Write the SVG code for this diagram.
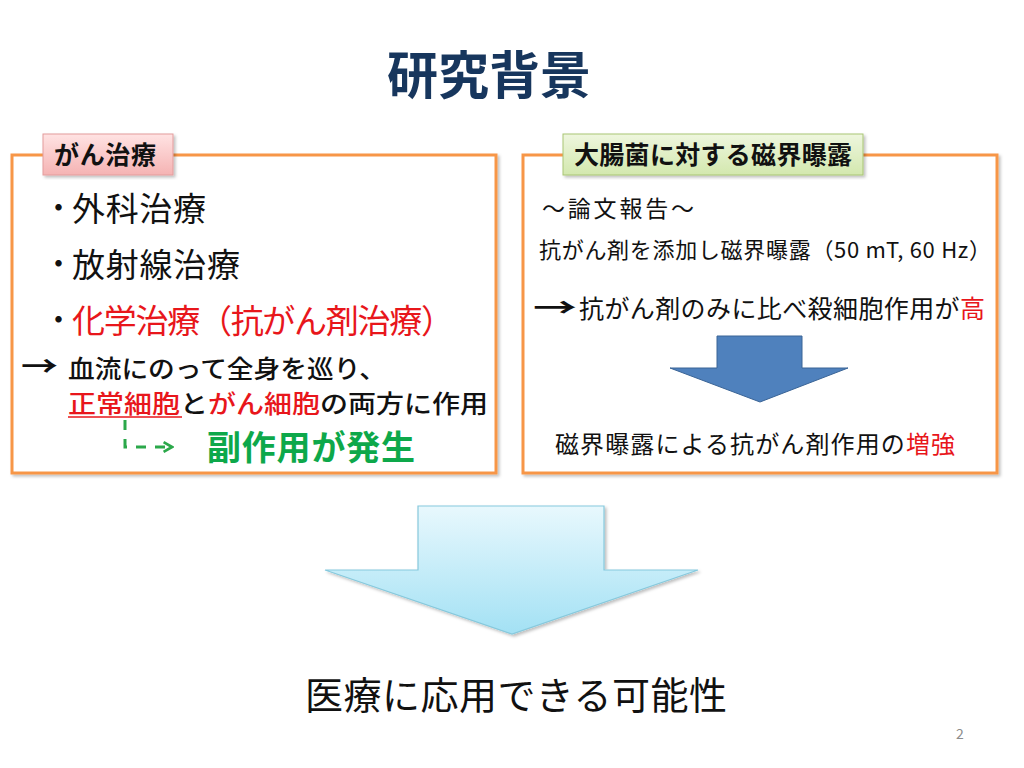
<svg xmlns="http://www.w3.org/2000/svg" width="1024" height="768" viewBox="0 0 1024 768">
<defs>
<linearGradient id="gPink" x1="0" y1="0" x2="0" y2="1"><stop offset="0" stop-color="#FFE3E3"/><stop offset="1" stop-color="#F5B3B3"/></linearGradient>
<linearGradient id="gGreen" x1="0" y1="0" x2="0" y2="1"><stop offset="0" stop-color="#EEF6DE"/><stop offset="1" stop-color="#D3E8AE"/></linearGradient>
<linearGradient id="gSky" x1="0" y1="0" x2="0" y2="1"><stop offset="0" stop-color="#E8F8FD"/><stop offset="1" stop-color="#A3E1F4"/></linearGradient>
<filter id="sh" x="-5%" y="-5%" width="110%" height="115%"><feDropShadow dx="2" dy="2" stdDeviation="1.5" flood-color="#000" flood-opacity="0.25"/></filter>
<marker id="gArrow" viewBox="0 0 10 10" refX="8" refY="5" markerWidth="4" markerHeight="4" orient="auto"><path d="M1,1 L8,5 L1,9" fill="none" stroke="#2BA84A" stroke-width="2.2"/></marker>
</defs>
<style>
text{font-family:"Noto Sans CJK JP","Noto Sans",sans-serif;fill:#111}
.box{fill:#fff;stroke:#F79646;stroke-width:3}
.red{fill:#E8161B}
.item{font-size:33px}
.bul{font-size:25px;font-weight:bold;fill:#111}
</style>
<rect width="1024" height="768" fill="#fff"/>
<text x="489" y="94" text-anchor="middle" font-size="51" font-weight="bold" style="fill:#17365D">研究背景</text>

<g id="cancer-treatment">
<rect class="box" x="12" y="155" width="484" height="318" filter="url(#sh)"/>
<rect x="43" y="134" width="130" height="41" fill="url(#gPink)" stroke="#E39C9C" stroke-width="1" filter="url(#sh)"/>
<text x="54" y="164" font-size="25" font-weight="bold" textLength="102">がん治療</text>
<text x="46" y="217" class="bul">・</text>
<text x="72" y="221" class="item" textLength="134">外科治療</text>
<text x="46" y="273" class="bul">・</text>
<text x="72" y="277" class="item" textLength="168">放射線治療</text>
<text x="46" y="329" class="bul">・</text>
<text x="72" y="333" class="item red" textLength="382">化学治療（抗がん剤治療）</text>
<text x="21" y="377" font-size="28" font-weight="bold" textLength="37" lengthAdjust="spacingAndGlyphs">→</text>
<text x="68" y="378" font-size="24.5" font-weight="500" textLength="318" lengthAdjust="spacingAndGlyphs">血流にのって全身を巡り、</text>
<text x="68" y="413" font-size="24.5" font-weight="500" textLength="420" lengthAdjust="spacingAndGlyphs"><tspan class="red">正常細胞</tspan>と<tspan class="red">がん細胞</tspan>の両方に作用</text>
<line x1="68" y1="417" x2="182" y2="417" stroke="#E8161B" stroke-width="1.5"/>
<text x="207" y="460" font-size="34" font-weight="bold" textLength="208" style="fill:#0DA84A">副作用が発生</text>
</g>

<g id="magnetic-exposure">
<rect class="box" x="523" y="155" width="474" height="318" filter="url(#sh)"/>
<rect x="563" y="134" width="300" height="41" fill="url(#gGreen)" stroke="#A9C574" stroke-width="1" filter="url(#sh)"/>
<text x="574" y="164" font-size="25" font-weight="bold" textLength="278">大腸菌に対する磁界曝露</text>
<text x="542" y="217" font-size="23" textLength="152">～論文報告～</text>
<text x="539" y="258" font-size="22" textLength="452">抗がん剤を添加し磁界曝露（50 mT, 60 Hz）</text>
<text x="533" y="317" font-size="26" font-weight="bold" textLength="44" lengthAdjust="spacingAndGlyphs">→</text>
<text x="579" y="318" font-size="25" textLength="406">抗がん剤のみに比べ殺細胞作用が<tspan class="red">高</tspan></text>
<path d="M717,336 H802 V368 H848 L760,402 L670,368 H717 Z" fill="#4F81BD" stroke="#3A6496" stroke-width="1"/>
<text x="555" y="453" font-size="24" textLength="400">磁界曝露による抗がん剤作用の<tspan class="red">増強</tspan></text>
</g>

<g id="connectors">
<path d="M125,420 V447 H172" fill="none" stroke="#2BA84A" stroke-width="3" stroke-dasharray="10,9" marker-end="url(#gArrow)"/>
</g>

<g id="big-arrow">
<path d="M418,506 H604 V570 H698 L512,634 L325,570 H418 Z" fill="url(#gSky)" stroke="#86C9DD" stroke-width="1.2" filter="url(#sh)"/>
</g>

<text x="305" y="709" font-size="38" textLength="422">医療に応用できる可能性</text>
<text x="956" y="739" font-size="14" style="fill:#8C8C8C">2</text>
</svg>
